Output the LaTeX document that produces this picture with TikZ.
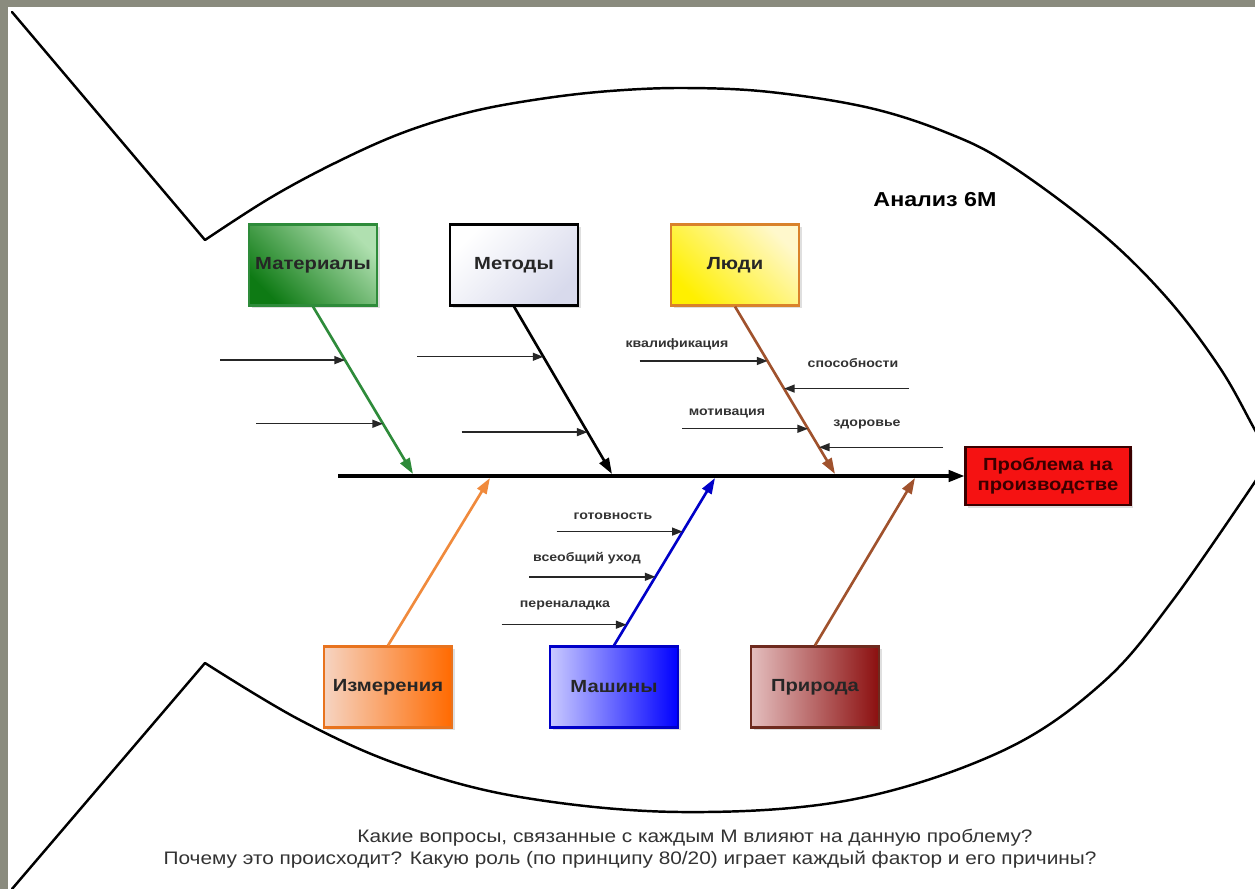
\documentclass[tikz,border=0pt]{standalone}
\usepackage{fontspec}
\setmainfont[FakeStretch=1.15]{Liberation Sans}
\usetikzlibrary{arrows.meta,calc,shadows}

\definecolor{bggray}{HTML}{8A8B7E}
\definecolor{matdark}{HTML}{0E7A14}
\definecolor{matlight}{HTML}{B0E0B0}
\definecolor{matline}{HTML}{2E8B3A}
\definecolor{metdark}{HTML}{D8DAEC}
\definecolor{ljudark}{HTML}{FFF000}
\definecolor{ljulight}{HTML}{FFF8CC}
\definecolor{ljuline}{HTML}{D9822B}
\definecolor{izmlight}{HTML}{F6D4C2}
\definecolor{izmdark}{HTML}{FF6A00}
\definecolor{izmline}{HTML}{E8731E}
\definecolor{mashlight}{HTML}{CACAFF}
\definecolor{mashdark}{HTML}{0000FF}
\definecolor{mashline}{HTML}{0000C8}
\definecolor{prirlight}{HTML}{E4BEBE}
\definecolor{prirdark}{HTML}{8B0F0F}
\definecolor{prirline}{HTML}{6E2A1E}
\definecolor{probfill}{HTML}{F51212}
\definecolor{probline}{HTML}{3A0000}
\definecolor{brownbone}{HTML}{A0522D}
\definecolor{orangebone}{HTML}{F08A3C}

\tikzset{
  outline/.style={line width=1.4pt, line cap=round},
  catbox/.style={line width=1.2pt, minimum width=2.56cm, minimum height=1.62cm,
    font=\bfseries\fontsize{10}{12}\selectfont, text=black!85,
    drop shadow={shadow xshift=1.5pt, shadow yshift=-1.5pt, opacity=0.25}},
  bone/.style={line width=1.5pt, -{Triangle[length=9pt,width=6pt]}},
  twig/.style={line width=0.8pt, black!85, -{Triangle[length=6pt,width=4.5pt]}},
  twiglbl/.style={font=\bfseries\fontsize{7}{8}\selectfont, text=black!80},
  qtext/.style={font=\fontsize{10.3}{12}\selectfont, text=black!80},
}

\begin{document}
\begin{tikzpicture}[x=0.02cm, y=-0.02cm]
  %%%%% FRAME %%%%%
  \useasboundingbox (0,0) rectangle (1255,889);
  \fill[bggray] (0,0) rectangle (1255,889);
  \fill[white] (8,7) rectangle (1255,889);
  \clip (0,0) rectangle (1255,889);

  %%%%% FISH %%%%%
  \draw[outline] (12,12) -- (205,240);
  \draw[outline] plot[smooth, tension=0.6] coordinates {(205,240) (270,198) (335,163) (402,133) (470,112) (540,99) (610,91) (685,88) (770,92) (870,108) (950,134) (1010,165) (1100,232) (1167,298) (1220,368) (1255,430) (1275,465)};
  \draw[outline] plot[smooth, tension=0.6] coordinates {(205,663) (300,720) (400,765) (520,797) (680,812) (850,800) (1000,752) (1100,685) (1173,600) (1275,452)};
  \draw[outline] (205,663) -- (12,889);

  \node[font=\bfseries\fontsize{11.5}{13}\selectfont] (title) at (935,200) {Анализ 6М};

  %%%%% HEAD %%%%%
  \node[draw=probline, fill=probfill, line width=1.2pt, minimum width=3.3cm, minimum height=1.16cm,
    align=center, font=\bfseries\fontsize{10}{11.5}\selectfont, text=probline,
    drop shadow={shadow xshift=1.5pt, shadow yshift=-1.5pt, opacity=0.25}] (prob) at (1048,476) {Проблема на\\производстве};
  \coordinate (tail) at (338,476);
  \draw[line width=1.8pt, -{Triangle[length=9pt,width=6.5pt]}] (tail) -- (prob.west);

  %%%%% TOP CAUSES %%%%%
  \node[catbox, draw=matline, bottom color=matdark, top color=matlight, shading angle=-45] (mat) at (313,265) {Материалы};
  \node[catbox, draw=black, bottom color=metdark, top color=white, shading angle=45] (met) at (514,265) {Методы};
  \node[catbox, draw=ljuline, bottom color=ljudark, top color=ljulight, shading angle=-45] (lju) at (735,265) {Люди};

  \coordinate (sMat) at (413,474);
  \coordinate (sMet) at (612,474);
  \coordinate (sLju) at (835,474);

  \draw[bone, matline] (mat.south) -- coordinate[pos=0.32] (m1) coordinate[pos=0.70] (m2) (sMat);
  \draw[bone, black] (met.south) -- coordinate[pos=0.30] (t1) coordinate[pos=0.75] (t2) (sMet);
  \draw[bone, brownbone] (lju.south) -- coordinate[pos=0.325] (l1) coordinate[pos=0.49] (l2)
    coordinate[pos=0.73] (l3) coordinate[pos=0.84] (l4) (sLju);

  \draw[twig] ($(m1)+(-125,0)$) -- (m1);
  \draw[twig] ($(m2)+(-127,0)$) -- (m2);
  \draw[twig] ($(t1)+(-126,0)$) -- (t1);
  \draw[twig] ($(t2)+(-126,0)$) -- (t2);
  \draw[twig] ($(l1)+(-128,0)$) -- (l1);
  \draw[twig] ($(l2)+(125,0)$) -- (l2);
  \draw[twig] ($(l3)+(-126,0)$) -- (l3);
  \draw[twig] ($(l4)+(124,0)$) -- (l4);

  \node[twiglbl] (kval) at (677,344) {квалификация};
  \node[twiglbl] (spos) at (853,363) {способности};
  \node[twiglbl] (motiv) at (727,413) {мотивация};
  \node[twiglbl] (zdor) at (867,424) {здоровье};

  %%%%% BOTTOM CAUSES %%%%%
  \node[catbox, draw=izmline, bottom color=izmlight, top color=izmdark, shading angle=-90] (izm) at (388,687) {Измерения};
  \node[catbox, draw=mashline, bottom color=mashlight, top color=mashdark, shading angle=-90] (mash) at (614,687) {Машины};
  \node[catbox, draw=prirline, bottom color=prirlight, top color=prirdark, shading angle=-90] (prir) at (815,687) {Природа};

  \coordinate (sIzm) at (490,478);
  \coordinate (sMash) at (715,478);
  \coordinate (sPrir) at (915,478);

  \draw[bone, orangebone] (izm.north) -- (sIzm);
  \draw[bone, mashline] (mash.north) -- coordinate[pos=0.124] (a3) coordinate[pos=0.41] (a2) coordinate[pos=0.68] (a1) (sMash);
  \draw[bone, brownbone] (prir.north) -- (sPrir);

  \draw[twig] ($(a1)+(-126,0)$) -- (a1);
  \draw[twig] ($(a2)+(-126,0)$) -- (a2);
  \draw[twig] ($(a3)+(-125,0)$) -- (a3);

  \node[twiglbl] (gotov) at (613,516) {готовность};
  \node[twiglbl] (uhod) at (587,558) {всеобщий уход};
  \node[twiglbl] (perenal) at (565,605) {переналадка};

  %%%%% QUESTIONS %%%%%
  \node[qtext] (q1) at (695,838) {Какие вопросы, связанные с каждым М влияют на данную проблему?};
  \node[qtext] (q2) at (630,860) {Почему это происходит? Какую роль (по принципу 80/20) играет каждый фактор и его причины?};
\end{tikzpicture}
\end{document}
